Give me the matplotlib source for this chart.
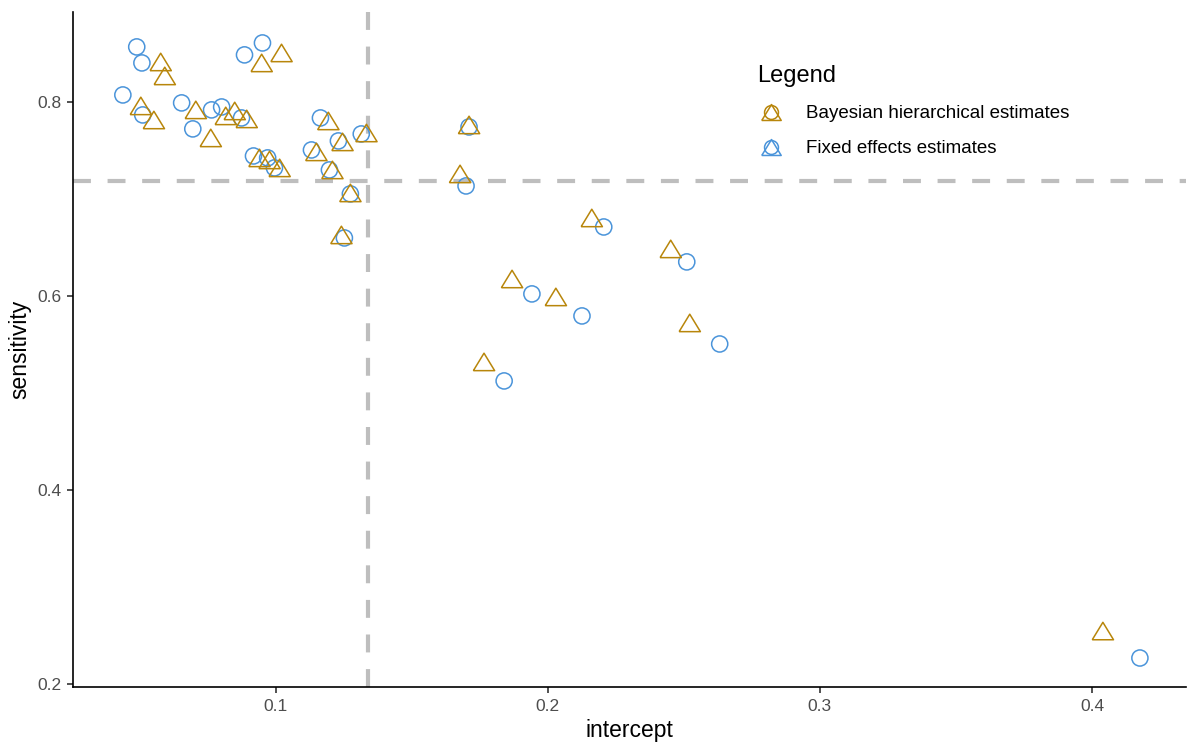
import matplotlib
matplotlib.use("Agg")
import matplotlib.pyplot as plt
from matplotlib.lines import Line2D

plt.rcParams['font.family'] = ['Liberation Sans', 'DejaVu Sans']

# Bayesian hierarchical estimates (triangles)
bayes_x = [0.0578, 0.0593, 0.0505, 0.0553, 0.0707, 0.0762, 0.0817, 0.0850, 0.0894, 0.0949,
           0.1022, 0.0941, 0.0978, 0.1015, 0.1194, 0.1246, 0.1334, 0.1150, 0.1209, 0.1275,
           0.1242, 0.1711, 0.1678, 0.1766, 0.1869, 0.2030, 0.2162, 0.2452, 0.2522, 0.4040]
bayes_y = [0.8412, 0.8268, 0.7959, 0.7814, 0.7918, 0.7629, 0.7856, 0.7907, 0.7825, 0.8402,
           0.8505, 0.7423, 0.7402, 0.7320, 0.7804, 0.7588, 0.7680, 0.7485, 0.7299, 0.7062,
           0.6629, 0.7763, 0.7258, 0.5320, 0.6175, 0.5990, 0.6804, 0.6485, 0.5722, 0.2546]

# Fixed effects estimates (circles)
fixed_x = [0.0490, 0.0509, 0.0439, 0.0512, 0.0655, 0.0696, 0.0765, 0.0802, 0.0875, 0.0886,
           0.0952, 0.0919, 0.0971, 0.0996, 0.1165, 0.1231, 0.1315, 0.1132, 0.1198, 0.1275,
           0.1253, 0.1711, 0.1700, 0.1840, 0.1942, 0.2126, 0.2206, 0.2511, 0.2632, 0.4176]
fixed_y = [0.8567, 0.8402, 0.8072, 0.7866, 0.7990, 0.7722, 0.7918, 0.7948, 0.7835, 0.8485,
           0.8608, 0.7443, 0.7423, 0.7320, 0.7835, 0.7598, 0.7670, 0.7505, 0.7299, 0.7052,
           0.6598, 0.7742, 0.7134, 0.5124, 0.6021, 0.5794, 0.6711, 0.6351, 0.5505, 0.2268]

mean_intercept = 0.1341
mean_sensitivity = 0.7186

gold = '#B8860B'
blue = '#4A94DA'

# flatter triangle, like ggplot's shape 2
tri_marker = [(-1, -0.82), (1, -0.82), (0, 0.82), (-1, -0.82)]

fig = plt.figure(figsize=(11.88, 7.44), dpi=100)
ax = fig.add_axes([0.0614, 0.0766, 0.9366, 0.9074])

ax.axvline(mean_intercept, color='#BEBEBE', lw=3, dashes=(4.3, 4), zorder=1)
ax.axhline(mean_sensitivity, color='#BEBEBE', lw=3, dashes=(4.3, 4), zorder=1)

ax.scatter(fixed_x, fixed_y, s=135, marker='o', facecolors='none', edgecolors=blue,
           linewidths=1.1, zorder=3)
ax.scatter(bayes_x, bayes_y, s=235, marker=tri_marker, facecolors='none', edgecolors=gold,
           linewidths=1.1, zorder=3)

ax.set_xlim(0.02556, 0.4344)
ax.set_ylim(0.1969, 0.8928)
ax.set_xticks([0.1, 0.2, 0.3, 0.4])
ax.set_xticklabels(['0.1', '0.2', '0.3', '0.4'])
ax.set_yticks([0.2, 0.4, 0.6, 0.8])
ax.set_yticklabels(['0.2', '0.4', '0.6', '0.8'])

for side in ['top', 'right']:
    ax.spines[side].set_visible(False)
for side in ['left', 'bottom']:
    ax.spines[side].set_linewidth(1.2)
ax.tick_params(axis='both', length=4, width=1.2, color='#333333',
               labelsize=12.5, labelcolor='#4D4D4D', pad=4.5)

ax.set_xlabel('intercept', fontsize=16.5, labelpad=4)
ax.set_ylabel('sensitivity', fontsize=16.5, labelpad=4)

handles = []
for c in [gold, blue]:
    tri = Line2D([], [], marker=tri_marker, ls='none', markersize=14, markerfacecolor='none',
                 markeredgecolor=c, markeredgewidth=1.1)
    circ = Line2D([], [], marker='o', ls='none', markersize=10, markerfacecolor='none',
                  markeredgecolor=c, markeredgewidth=1.1)
    handles.append((tri, circ))

leg = fig.legend(handles, ['Bayesian hierarchical estimates', 'Fixed effects estimates'],
                 loc='upper left', bbox_to_anchor=(0.623, 0.935), frameon=False,
                 title='Legend', title_fontsize=17, fontsize=13.5, alignment='left',
                 handlelength=1.5, handletextpad=1.1, labelspacing=0.95)

fig.savefig('out.png', dpi=100)
